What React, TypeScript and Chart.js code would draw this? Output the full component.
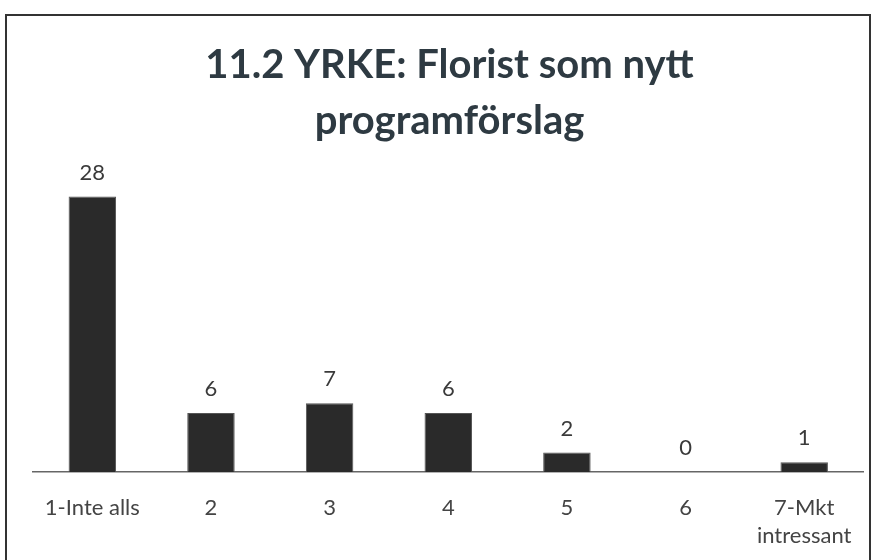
import React, { useEffect, useRef } from "react";
import { Chart, registerables } from "chart.js";

Chart.register(...registerables);

const titleLines = ["11.2 YRKE: Florist som nytt", "programförslag"];
const categories: (string | string[])[] = ["1-Inte alls", "2", "3", "4", "5", "6", ["7-Mkt", "intressant"]];
const counts = [28, 6, 7, 6, 2, 0, 1];

const FONT = "Lato, 'Open Sans', 'DejaVu Sans', sans-serif";

const valueLabels = {
  id: "valueLabels",
  afterDatasetsDraw(chart: any) {
    const ctx = chart.ctx;
    const meta = chart.getDatasetMeta(0);
    ctx.save();
    ctx.font = `22px ${FONT}`;
    ctx.fillStyle = "#3a3a3a";
    ctx.textAlign = "center";
    ctx.textBaseline = "bottom";
    meta.data.forEach((bar: any, i: number) => {
      ctx.fillText(String(counts[i]), bar.x, bar.y - 13);
    });
    ctx.restore();
  },
};

export default function App() {
  const ref = useRef<HTMLCanvasElement>(null);
  useEffect(() => {
    if (!ref.current) return;
    const chart = new Chart(ref.current, {
      type: "bar",
      data: {
        labels: categories,
        datasets: [
          {
            data: counts,
            backgroundColor: "#2a2a2a",
            borderColor: "#555",
            borderWidth: 1,
            barPercentage: 0.4,
            categoryPercentage: 1,
          },
        ],
      },
      options: {
        responsive: false,
        animation: false,
        layout: { padding: { left: 33, right: 8, top: 37, bottom: -12 } },
        plugins: {
          legend: { display: false },
          tooltip: { enabled: false },
          title: {
            display: true,
            text: titleLines,
            color: "#2e3a42",
            font: { family: FONT, size: 40, weight: "bold", lineHeight: 1.4 },
            padding: { top: 0, bottom: 23 },
          },
        },
        scales: {
          x: {
            grid: { display: false, drawTicks: false },
            border: { display: true, color: "#666", width: 1.5 },
            ticks: { color: "#444", font: { family: FONT, size: 22, lineHeight: 1.27 }, padding: 22, maxRotation: 0, autoSkip: false },
          },
          y: { display: false, min: 0, max: 30.5 },
        },
      },
      plugins: [valueLabels],
    });
    return () => chart.destroy();
  }, []);
  return (
    <div style={{ position: "absolute", left: 0, top: 0, width: 874, height: 560, background: "#fff" }}>
      <canvas ref={ref} width={874} height={560} style={{ position: "absolute", left: 0, top: 0 }} />
      <div style={{ position: "absolute", left: 5, top: 14, width: 862, height: 560, borderLeft: "2px solid #333", borderTop: "2px solid #333", borderRight: "2px solid #333" }} />
    </div>
  );
}
